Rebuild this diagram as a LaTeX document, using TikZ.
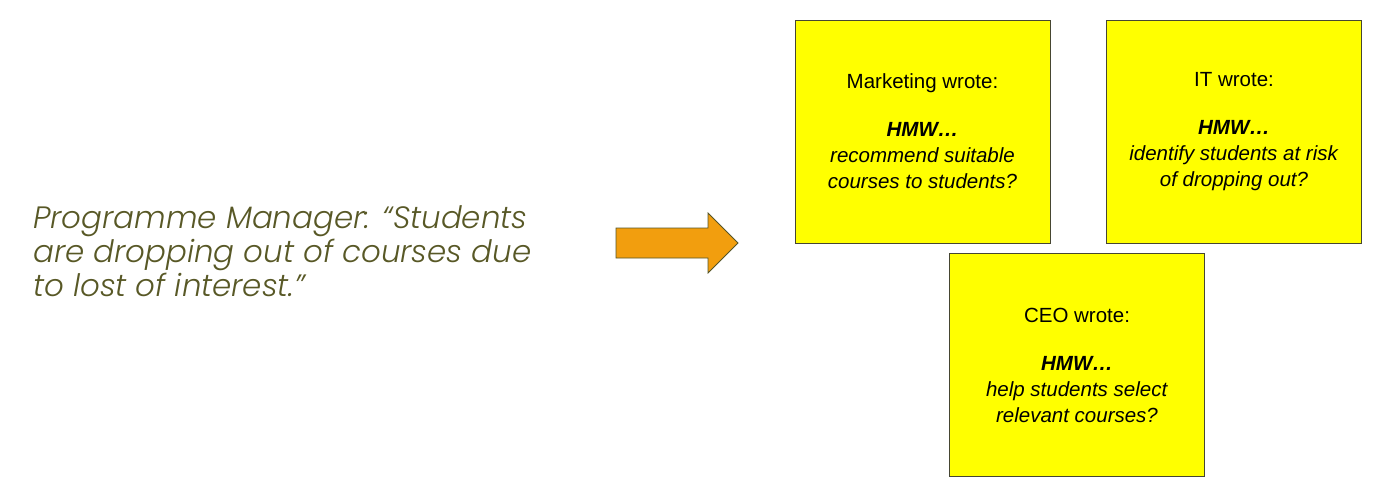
\documentclass[tikz,border=0pt]{standalone}
\usepackage{fontspec}
\setmainfont{Liberation Sans}
\newfontfamily\quotefont{Poppins Light}
\definecolor{olivetext}{RGB}{88,88,38}
\definecolor{notefill}{RGB}{255,255,0}
\definecolor{noteedge}{RGB}{70,70,50}
\definecolor{arrowfill}{RGB}{242,158,14}
\definecolor{arrowedge}{RGB}{85,85,40}
\begin{document}
\begin{tikzpicture}[x=1pt,y=-1pt,
  note/.style={draw=noteedge,line width=0.9pt,fill=notefill,minimum width=255pt,
    minimum height=223pt,align=center,inner sep=0pt,
    font=\fontsize{20.5}{26}\selectfont},
  quote/.style={anchor=north west,align=left,text=olivetext,inner sep=0pt,
    font=\quotefont\itshape\fontsize{30.9}{34}\selectfont}]
\useasboundingbox (0,0) rectangle (1400,487);
% statement
\node[quote] (stmt) at (33,205) {Programme Manager: “Students\\are dropping out of courses due\\to lost of interest.”};
% block arrow
\draw[draw=arrowedge,line width=0.8pt,fill=arrowfill]
  (616,228) -- (708,228) -- (708,213) -- (738,243) -- (708,273) -- (708,258) -- (616,258) -- cycle;
% sticky notes
\node[note] (mkt) at (922.5,131.5) {Marketing wrote:\\[22pt]\textbf{\textit{HMW…}}\\\textit{recommend suitable}\\\textit{courses to students?}};
\node[note] (it) at (1234,131.5) {IT wrote:\\[22pt]\textbf{\textit{HMW…}}\\\textit{identify students at risk}\\\textit{of dropping out?}};
\node[note] (ceo) at (1077,365) {CEO wrote:\\[22pt]\textbf{\textit{HMW…}}\\\textit{help students select}\\\textit{relevant courses?}};
\end{tikzpicture}
\end{document}
